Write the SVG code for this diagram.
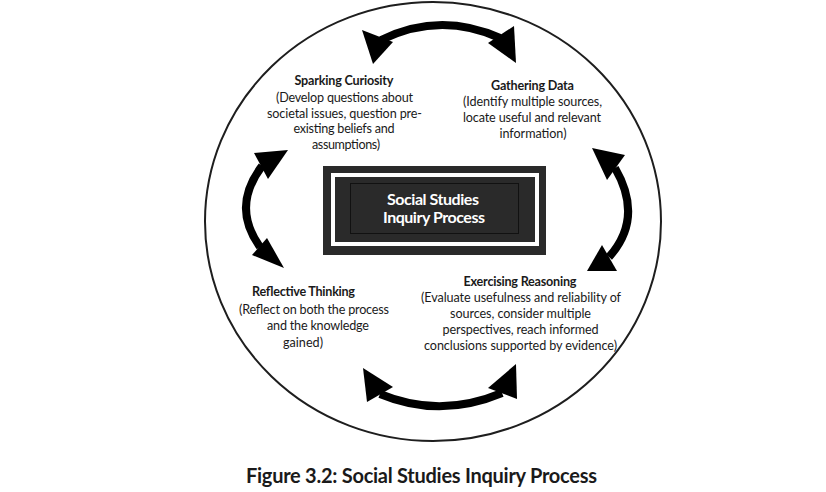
<svg xmlns="http://www.w3.org/2000/svg" width="826" height="492" viewBox="0 0 826 492">
  <style>
    .t { font-family: Lato, "Open Sans", "Liberation Sans", sans-serif; font-size: 12.6px; fill: #1a1a1a; }
    .b { font-weight: bold; }
    .m { text-anchor: middle; }
    .w { fill: #ffffff; font-size: 16px; font-weight: bold; }
    .shaft { fill: none; stroke: #000; stroke-width: 8; }
    .head { fill: #000; }
  </style>
  <rect width="826" height="492" fill="#ffffff"/>
  <ellipse cx="433" cy="221.5" rx="228" ry="219.5" fill="none" stroke="#1e1e1e" stroke-width="2"/>

  <g id="center">
    <rect x="323" y="166" width="223" height="89" fill="#2a2a2a"/>
    <rect x="333" y="175" width="204" height="69" fill="none" stroke="#ffffff" stroke-width="4"/>
    <rect x="350.5" y="183.5" width="168" height="50" fill="none" stroke="#111111" stroke-width="1"/>
    <text class="t w m" x="433" y="204.5" textLength="92">Social Studies</text>
    <text class="t w m" x="434" y="223" textLength="102">Inquiry Process</text>
  </g>

  <g id="sparking">
    <text class="t b m" x="344" y="85" textLength="99">Sparking Curiosity</text>
    <text class="t m" x="344.5" y="101.7" textLength="137">(Develop questions about</text>
    <text class="t m" x="344.5" y="117.7" textLength="155">societal issues, question pre-</text>
    <text class="t m" x="344" y="133.3" textLength="101">existing beliefs and</text>
    <text class="t m" x="346" y="149" textLength="68">assumptions)</text>
  </g>

  <g id="gathering">
    <text class="t b m" x="532.5" y="90" textLength="83">Gathering Data</text>
    <text class="t m" x="532.5" y="106" textLength="139">(Identify multiple sources,</text>
    <text class="t m" x="532" y="122" textLength="138">locate useful and relevant</text>
    <text class="t m" x="533" y="138" textLength="67">information)</text>
  </g>

  <g id="exercising">
    <text class="t b m" x="520" y="286" textLength="113">Exercising Reasoning</text>
    <text class="t m" x="521" y="302" textLength="200">(Evaluate usefulness and reliability of</text>
    <text class="t m" x="520.5" y="318" textLength="141">sources, consider multiple</text>
    <text class="t m" x="520.5" y="334" textLength="156">perspectives, reach informed</text>
    <text class="t m" x="520.5" y="349.5" textLength="193">conclusions supported by evidence)</text>
  </g>

  <g id="reflective">
    <text class="t b" x="252" y="296" textLength="103">Reflective Thinking</text>
    <text class="t" x="239" y="313.5" textLength="150">(Reflect on both the process</text>
    <text class="t" x="267" y="330" textLength="102">and the knowledge</text>
    <text class="t" x="283" y="346.5" textLength="40">gained)</text>
  </g>

  <g id="connectors">
    <g id="arrow-top">
      <path class="shaft" d="M381,40 Q440,11 500,38"/>
      <polygon class="head" points="362,30 373,64 393,42"/>
      <polygon class="head" points="514,26 516,63 488,43"/>
    </g>
    <g id="arrow-left">
      <path class="shaft" d="M262,166 Q231,207 260,247"/>
      <polygon class="head" points="288,150 254,153 268,179"/>
      <polygon class="head" points="252,255 267,238 284,268"/>
    </g>
    <g id="arrow-right">
      <path class="shaft" d="M615,168 Q644,218 609,257"/>
      <polygon class="head" points="592,148 625,155 607,180"/>
      <polygon class="head" points="602,245 617,271 587,271"/>
    </g>
    <g id="arrow-bottom">
      <path class="shaft" d="M380,394 Q440,419 502,393"/>
      <polygon class="head" points="363,368 367,402 393,387"/>
      <polygon class="head" points="516,364 517,399 488,388"/>
    </g>
  </g>

  <g id="caption">
    <text class="t b" x="246" y="483" style="font-size:20px" textLength="351">Figure 3.2: Social Studies Inquiry Process</text>
  </g>
</svg>
